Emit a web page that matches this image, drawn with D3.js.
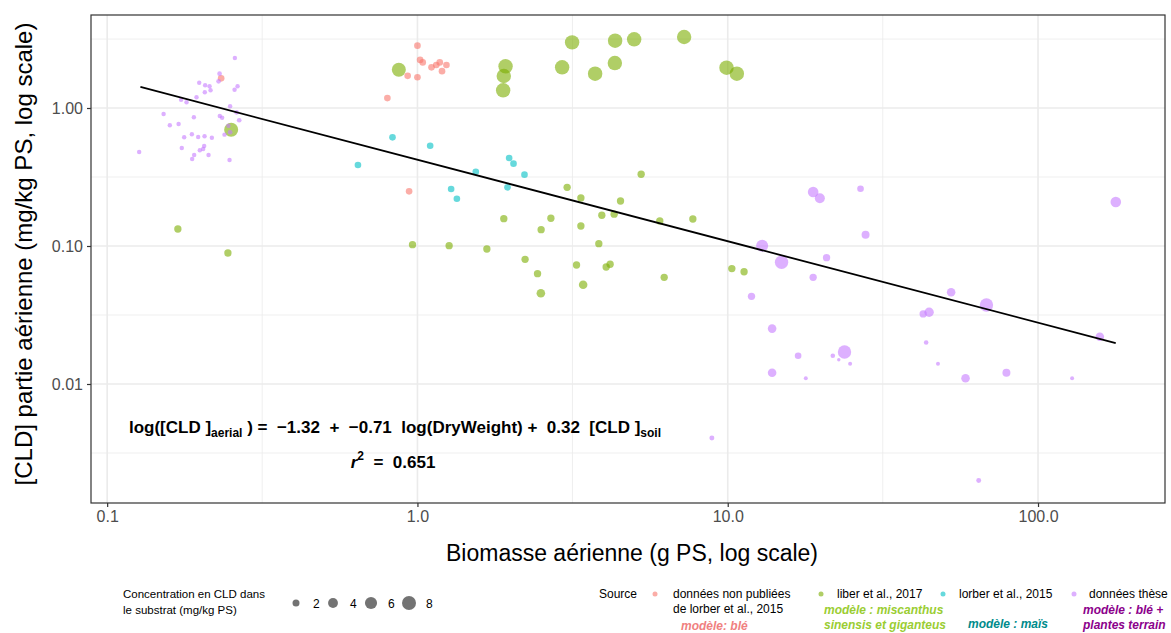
<!DOCTYPE html>
<html><head><meta charset="utf-8">
<script src="https://cdn.jsdelivr.net/npm/d3@7"></script>
<style>
body{margin:0;background:#fff;}
text{font-family:"Liberation Sans",Arial,sans-serif;}
</style>
</head><body>
<svg id="c" width="1171" height="633"></svg>
<script>
// ---------- DATA ----------
const sourceNames = ["données non publiées\nde lorber et al., 2015", "liber et al., 2017", "lorber et al., 2015", "données thèse"];
const sourceColors = ["#F8766D", "#7CAE00", "#00BFC4", "#C77CFF"];

const redX = [1.00, 1.02, 1.04, 1.11, 1.15, 1.18, 1.24, 1.20, 0.93, 1.00, 0.80, 0.94, 0.233];
const redY = [2.83, 2.23, 2.14, 1.97, 2.05, 2.14, 2.05, 1.85, 1.71, 1.67, 1.18, 0.249, 1.64];
const redSoil = [1.8, 1.8, 1.8, 1.8, 1.8, 1.8, 1.8, 1.8, 1.8, 1.8, 1.8, 1.8, 1.8];

const greenX = [0.871, 1.923, 1.898, 1.889, 2.926, 3.151, 3.738, 4.336, 4.327, 4.994, 7.236, 9.91, 10.7, 0.251,
  0.169, 0.245, 0.964, 1.265, 1.674, 1.898, 2.223, 2.438, 2.499, 2.504, 2.692, 3.037, 3.256, 3.363, 3.363, 3.42,
  3.842, 3.929, 4.057, 4.178, 4.305, 4.513, 5.26, 6.04, 6.24, 7.72, 10.31, 11.29];
const greenY = [1.895, 2.005, 1.706, 1.344, 1.972, 2.99, 1.773, 3.074, 2.118, 3.147, 3.27, 1.959, 1.773, 0.696,
  0.1328, 0.089, 0.1022, 0.1005, 0.0951, 0.1577, 0.080, 0.063, 0.0454, 0.1313, 0.1588, 0.266, 0.0728, 0.223, 0.1396, 0.0524,
  0.104, 0.167, 0.0704, 0.0737, 0.170, 0.212, 0.331, 0.152, 0.0593, 0.157, 0.0686, 0.0651];
const greenSoil = [8, 8.5, 8.5, 8.5, 8.5, 8.5, 8.5, 8.5, 8.5, 8.5, 8.5, 8.5, 8.5, 8,
  2.2, 2.2, 2.2, 2.2, 2.2, 2.2, 2.2, 2.2, 3.0, 2.2, 2.2, 2.2, 2.2, 2.2, 2.2, 3.0,
  2.2, 2.2, 2.2, 2.2, 2.2, 2.2, 2.2, 2.2, 2.2, 2.2, 2.2, 2.2];

const cyanX = [0.643, 0.831, 1.099, 1.284, 1.34, 1.542, 1.975, 2.04, 1.951, 2.213];
const cyanY = [0.386, 0.613, 0.533, 0.259, 0.22, 0.345, 0.434, 0.395, 0.266, 0.329];
const cyanSoil = [1.8, 1.8, 1.8, 1.8, 1.8, 1.8, 1.8, 1.8, 1.8, 1.8];

const purpleX = [0.258, 0.2303, 0.2286, 0.198, 0.2069, 0.2138, 0.2154, 0.2064, 0.2632, 0.2574, 0.1941, 0.1731, 0.1802,
  0.249, 0.2612, 0.152, 0.1903, 0.2307, 0.2347, 0.2664, 0.1592, 0.1699, 0.246, 0.249, 0.2389, 0.1875, 0.1771, 0.1965,
  0.206, 0.2175, 0.2054, 0.2039, 0.174, 0.1989, 0.1907, 0.2122, 0.1879, 0.248, 0.1268,
  18.85, 19.81, 26.79, 178.1, 27.81, 12.91, 14.91, 20.82, 18.85, 11.93, 52.48, 68.2, 42.65, 44.57, 13.9, 158.2,
  43.6, 23.79, 16.86, 21.81, 22.8, 24.8, 47.6, 13.9, 17.85, 58.4, 79.1, 128.8, 8.89, 64.4];
const purpleY = [2.30, 1.773, 1.561, 1.525, 1.461, 1.436, 1.344, 1.299, 1.436, 1.357, 1.195, 1.148, 1.10,
  1.029, 0.931, 0.905, 0.856, 0.875, 0.851, 0.815, 0.749, 0.766, 0.744, 0.667, 0.641, 0.645, 0.613, 0.616,
  0.624, 0.609, 0.530, 0.505, 0.513, 0.494, 0.456, 0.456, 0.427, 0.420, 0.480,
  0.246, 0.2217, 0.260, 0.2084, 0.1207, 0.1005, 0.0762, 0.0823, 0.0593, 0.0432, 0.0462, 0.0374, 0.0322, 0.0331, 0.0252, 0.0220,
  0.0200, 0.01706, 0.01603, 0.01603, 0.0150, 0.01403, 0.01403, 0.01207, 0.0110, 0.0110, 0.01207, 0.0110, 0.00406, 0.0020];
const purpleSoil = [0.8, 0.9, 0.9, 0.8, 0.8, 0.8, 0.8, 0.8, 0.8, 0.8, 0.8, 0.8, 0.8,
  0.8, 0.9, 0.8, 0.8, 0.8, 0.8, 0.9, 0.8, 0.8, 0.8, 0.9, 0.8, 0.8, 0.8, 0.8,
  0.8, 0.8, 0.8, 0.8, 0.8, 0.8, 0.8, 0.8, 0.8, 0.8, 0.8,
  4.6, 4.1, 1.8, 4.6, 2.6, 5.9, 7.3, 2.2, 2.2, 2.2, 3.0, 7.3, 2.2, 3.6, 3.0, 3.0,
  0.86, 7.3, 1.8, 0.86, 0.47, 0.65, 0.65, 3.0, 0.65, 3.0, 2.6, 0.65, 1.0, 1.0];

const fitX = [0.128, 178];
const fitY = [1.42, 0.0198];

const xTicks = [0.1, 1, 10, 100];
const xTickLabels = ["0.1", "1.0", "10.0", "100.0"];
const yTicks = [0.01, 0.1, 1];
const yTickLabels = ["0.01", "0.10", "1.00"];
const xMinor = [0.316, 3.16, 31.6];
const yMinor = [0.00316, 0.0316, 0.316, 3.16];
const sizeBreaks = [2, 4, 6, 8];

// ---------- LAYOUT ----------
const svg = d3.select("#c");
const L = 91, R = 1165, T = 15, B = 503;
const x = d3.scaleLog().domain([0.0887, 256.6]).range([L, R]);
const y = d3.scaleLog().domain([0.001373, 4.72]).range([B, T]);
const r = d3.scaleSqrt().domain([0, 8]).range([0, 7]);
const ALPHA = 0.6;

svg.append("rect").attr("x", L).attr("y", T).attr("width", R - L).attr("height", B - T).attr("fill", "#fff");

// grid
const grid = svg.append("g");
grid.selectAll(".xm").data(xMinor).join("line")
  .attr("x1", d => x(d)).attr("x2", d => x(d)).attr("y1", T).attr("y2", B)
  .attr("stroke", "#EBEBEB").attr("stroke-width", 0.8);
grid.selectAll(".ym").data(yMinor).join("line")
  .attr("y1", d => y(d)).attr("y2", d => y(d)).attr("x1", L).attr("x2", R)
  .attr("stroke", "#EBEBEB").attr("stroke-width", 0.8);
grid.selectAll(".xM").data(xTicks).join("line")
  .attr("x1", d => x(d)).attr("x2", d => x(d)).attr("y1", T).attr("y2", B)
  .attr("stroke", "#EBEBEB").attr("stroke-width", 1.6);
grid.selectAll(".yM").data(yTicks).join("line")
  .attr("y1", d => y(d)).attr("y2", d => y(d)).attr("x1", L).attr("x2", R)
  .attr("stroke", "#EBEBEB").attr("stroke-width", 1.6);

// points
function mk(xs, ys, ss, col) { return xs.map((v, i) => ({x: v, y: ys[i], s: ss[i], c: col})); }
const pts = [].concat(
  mk(redX, redY, redSoil, sourceColors[0]),
  mk(greenX, greenY, greenSoil, sourceColors[1]),
  mk(cyanX, cyanY, cyanSoil, sourceColors[2]),
  mk(purpleX, purpleY, purpleSoil, sourceColors[3])
);
svg.append("g").selectAll("circle").data(pts).join("circle")
  .attr("cx", d => x(d.x)).attr("cy", d => y(d.y)).attr("r", d => r(d.s))
  .attr("fill", d => d.c).attr("fill-opacity", ALPHA);

// fit line
svg.append("path").datum(fitX.map((v, i) => [v, fitY[i]]))
  .attr("d", d3.line().x(d => x(d[0])).y(d => y(d[1])))
  .attr("fill", "none").attr("stroke", "#000").attr("stroke-width", 1.8);

// border
svg.append("rect").attr("x", L).attr("y", T).attr("width", R - L).attr("height", B - T)
  .attr("fill", "none").attr("stroke", "#333").attr("stroke-width", 1.2);

// axes
const xa = svg.append("g").attr("transform", `translate(0,${B})`)
  .call(d3.axisBottom(x).tickValues(xTicks).tickFormat((d, i) => xTickLabels[i]).tickSize(4).tickPadding(4));
const ya = svg.append("g").attr("transform", `translate(${L},0)`)
  .call(d3.axisLeft(y).tickValues(yTicks).tickFormat((d, i) => yTickLabels[i]).tickSize(4).tickPadding(4));
[xa, ya].forEach(a => {
  a.select(".domain").remove();
  a.selectAll(".tick line").attr("stroke", "#333").attr("stroke-width", 1.2);
  a.selectAll(".tick text").attr("fill", "#4D4D4D").attr("font-size", 16)
    .attr("font-family", "Liberation Sans, Arial, sans-serif");
});

// axis titles
svg.append("text").attr("x", (L + R) / 2 + 4).attr("y", 561).attr("text-anchor", "middle")
  .attr("font-size", 23).attr("fill", "#000").text("Biomasse aérienne (g PS, log scale)");
svg.append("text").attr("transform", `translate(32,254) rotate(-90)`).attr("text-anchor", "middle")
  .attr("font-size", 24).attr("fill", "#000").text("[CLD] partie aérienne (mg/kg PS, log scale)");

// equation
const eq = svg.append("text").attr("x", 395).attr("y", 433).attr("text-anchor", "middle")
  .attr("font-size", 17).attr("font-weight", "bold").attr("fill", "#000").style("white-space", "pre");
eq.append("tspan").text("log([CLD ]");
eq.append("tspan").attr("dy", 4).attr("font-size", 12).text("aerial");
eq.append("tspan").attr("dy", -4).text(" ) =  −1.32  +  −0.71  log(DryWeight) +  0.32  [CLD ]");
eq.append("tspan").attr("dy", 4).attr("font-size", 12).text("soil");
const r2 = svg.append("text").attr("x", 393).attr("y", 468).attr("text-anchor", "middle")
  .attr("font-size", 17).attr("font-weight", "bold").attr("fill", "#000").style("white-space", "pre");
r2.append("tspan").attr("font-style", "italic").text("r");
r2.append("tspan").attr("dy", -8).attr("font-size", 12).text("2");
r2.append("tspan").attr("dy", 8).text("  =  0.651");

// size legend
const sl = svg.append("g");
sl.append("text").attr("x", 123).attr("y", 598).attr("font-size", 11.5).attr("fill", "#000").text("Concentration en CLD dans");
sl.append("text").attr("x", 123).attr("y", 614).attr("font-size", 11.5).attr("fill", "#000").text("le substrat (mg/kg PS)");
const slx = [296, 333, 371, 409];
sizeBreaks.forEach((v, i) => {
  sl.append("circle").attr("cx", slx[i]).attr("cy", 603).attr("r", r(v)).attr("fill", "#000").attr("fill-opacity", 0.55);
  sl.append("text").attr("x", slx[i] + 17).attr("y", 607.5).attr("font-size", 12).attr("fill", "#000").text(v);
});

// color legend
const cl = svg.append("g");
cl.append("text").attr("x", 599).attr("y", 598).attr("font-size", 12).attr("fill", "#000").text("Source");
const keyX = [655, 821, 943, 1074];
const labX = [673, 837, 959, 1089];
sourceNames.forEach((n, i) => {
  cl.append("circle").attr("cx", keyX[i]).attr("cy", 594).attr("r", 2.5).attr("fill", sourceColors[i]).attr("fill-opacity", ALPHA);
  n.split("\n").forEach((ln, j) => {
    cl.append("text").attr("x", labX[i]).attr("y", 598 + j * 15).attr("font-size", 12).attr("fill", "#000").text(ln);
  });
});

// model annotations
const notes = [
  {lines: ["modèle: blé"], x: 681, y: 630, c: "#F08080"},
  {lines: ["modèle : miscanthus", "sinensis et giganteus"], x: 824, y: 614, c: "#9ACD32"},
  {lines: ["modèle : maïs"], x: 968, y: 628, c: "#008B8B"},
  {lines: ["modèle : blé +", "plantes terrain"], x: 1083, y: 614, c: "#8B008B"}
];
notes.forEach(nt => nt.lines.forEach((ln, j) => {
  svg.append("text").attr("x", nt.x).attr("y", nt.y + j * 15).attr("font-size", 12)
    .attr("font-weight", "bold").attr("font-style", "italic").attr("fill", nt.c).text(ln);
}));
</script>
</body></html>
